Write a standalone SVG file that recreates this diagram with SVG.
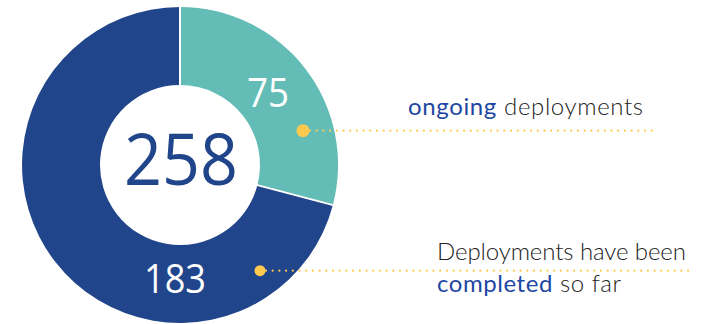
<svg xmlns="http://www.w3.org/2000/svg" width="713" height="324" viewBox="0 0 713 324">
<style>
.num{font-family:"Open Sans","Noto Sans",sans-serif;text-anchor:middle}
.lbl{font-family:Lato,"Liberation Sans",sans-serif;font-size:24px;font-weight:300;fill:#222}
.hl{fill:#1E47A3;font-weight:400}
.dots{stroke:#FFC84F;stroke-width:2.2;stroke-linecap:round;stroke-dasharray:0 6.7;fill:none}
.dot{fill:#FFC84F}
</style>
<rect width="713" height="324" fill="#fff"/>
<g id="donut">
<g id="completed-segment">
<path d="M332.9 205 A158 158 0 1 1 180 7 L180 85 A80 80 0 1 0 257.4 185.2 Z" fill="#21458B"/>
<text class="num" x="175" y="293" font-size="41" fill="#fff" textLength="62" lengthAdjust="spacingAndGlyphs">183</text>
</g>
<g id="ongoing-segment">
<path d="M180 7 A158 158 0 0 1 332.9 205 L257.4 185.2 A80 80 0 0 0 180 85 Z" fill="#63BDB6"/>
<text class="num" x="268" y="107" font-size="40" fill="#fff" textLength="42" lengthAdjust="spacingAndGlyphs">75</text>
</g>
<g id="separators" stroke="#fff" stroke-width="2">
<line x1="180" y1="5" x2="180" y2="86"/>
<line x1="256.4" y1="184.9" x2="335" y2="205.6"/>
</g>
<g id="total">
<text class="num" x="181" y="185" font-size="72" font-weight="500" fill="#21458B" textLength="114" lengthAdjust="spacingAndGlyphs">258</text>
</g>
</g>
<g id="connectors">
<line class="dots" x1="310" y1="130.7" x2="653" y2="130.7"/>
<circle class="dot" cx="303" cy="130.7" r="6.5"/>
<line class="dots" x1="266" y1="270.7" x2="693" y2="270.7"/>
<circle class="dot" cx="260" cy="270.7" r="5.5"/>
</g>
<g id="label-ongoing">
<text class="lbl" x="408" y="115" textLength="235"><tspan class="hl">ongoing</tspan> deployments</text>
</g>
<g id="label-completed">
<text class="lbl" x="437" y="260" textLength="249">Deployments have been</text>
<text class="lbl" x="437" y="292" textLength="184"><tspan class="hl">completed</tspan> so far</text>
</g>
</svg>
